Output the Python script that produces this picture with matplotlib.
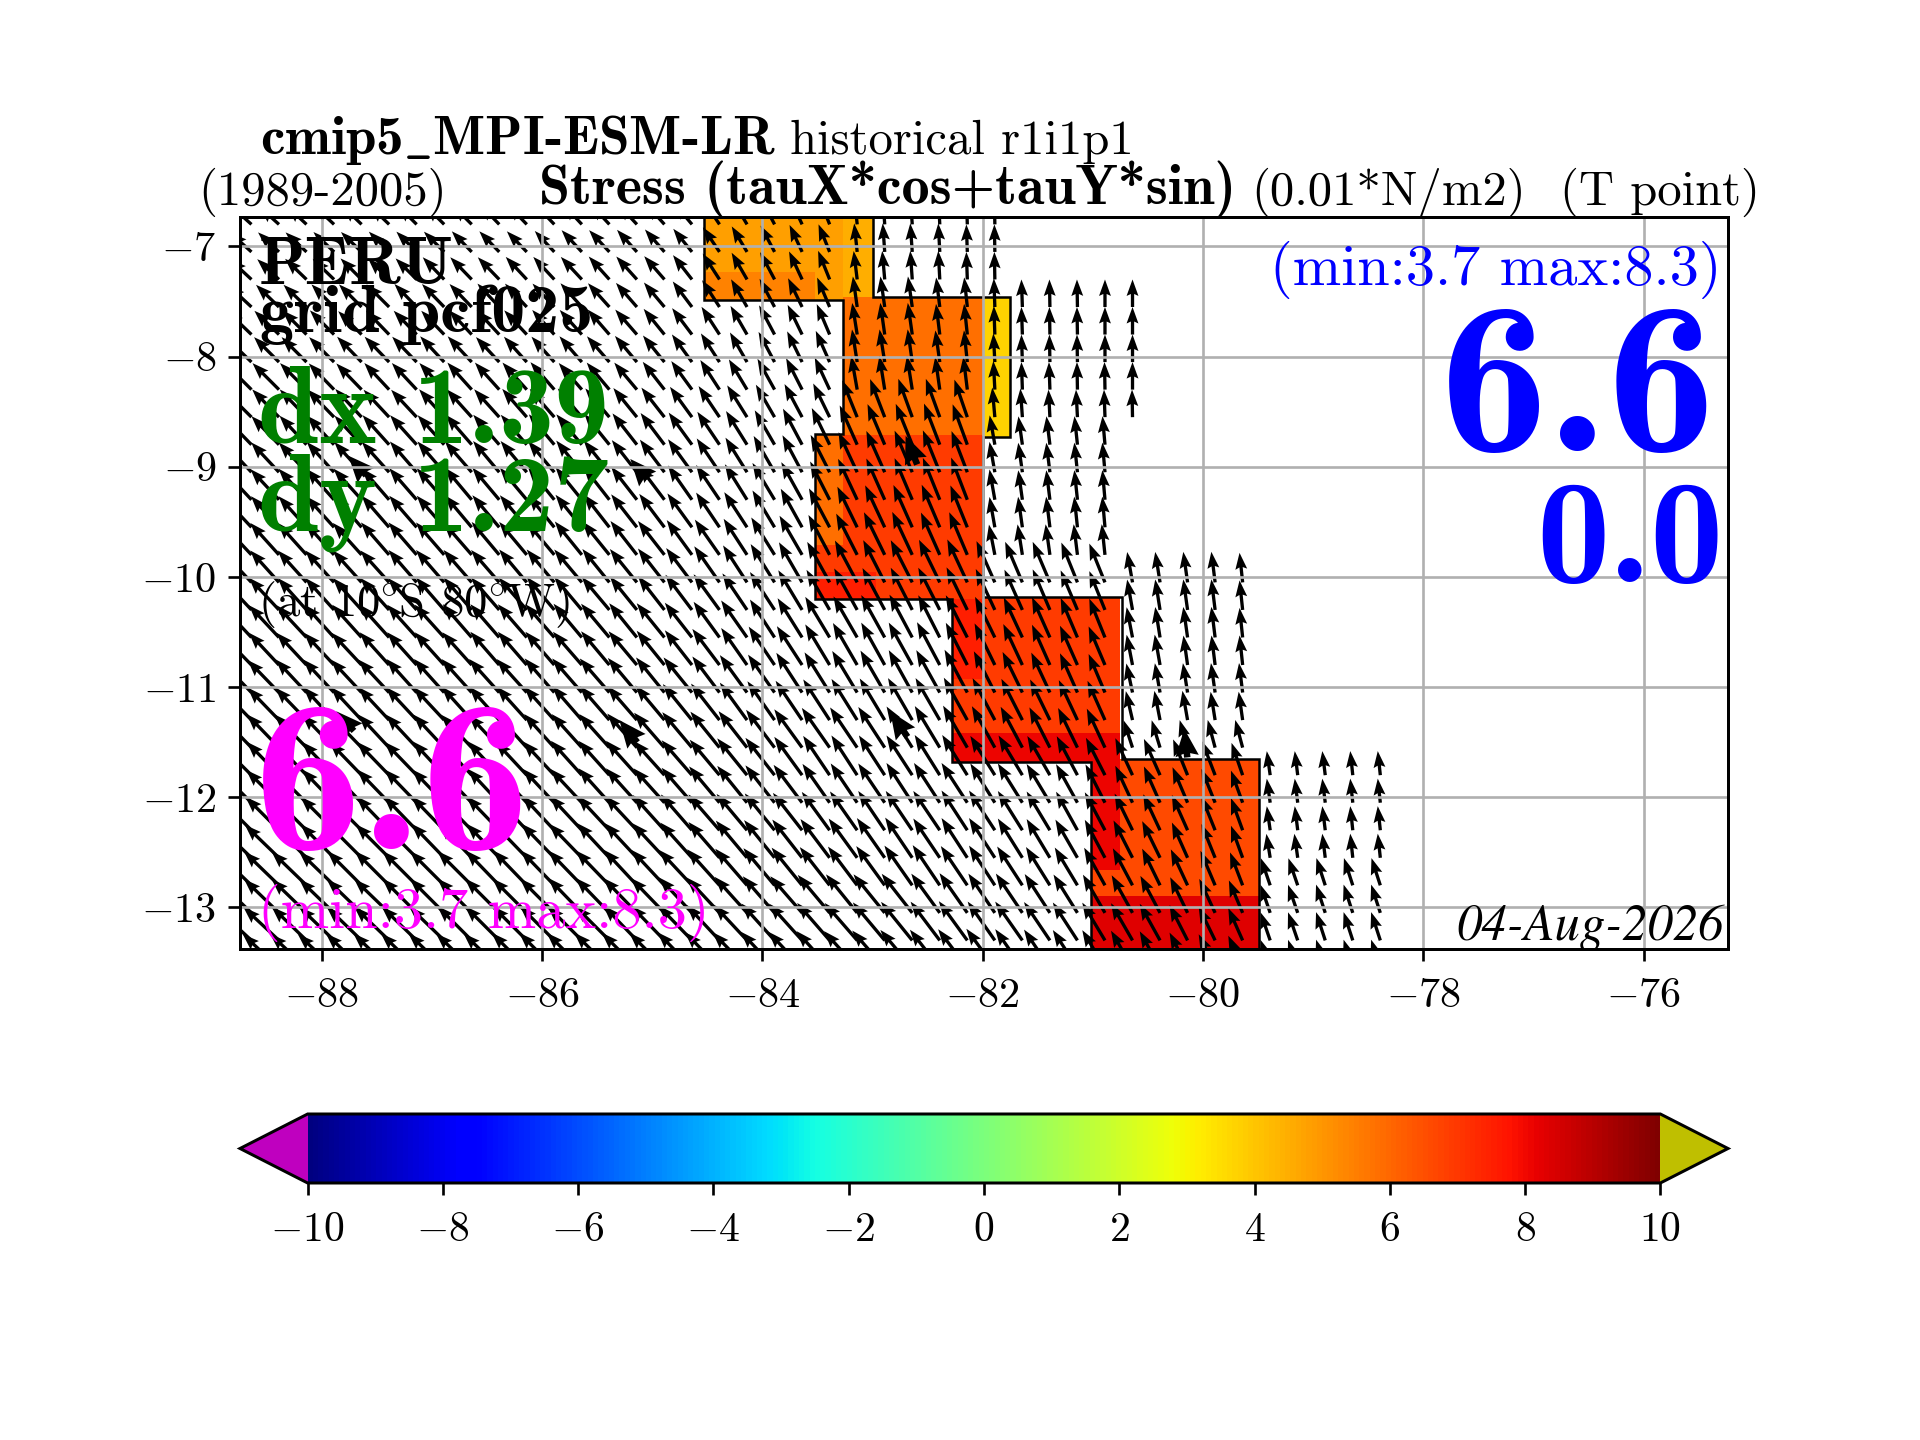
import numpy as np
import matplotlib
matplotlib.use("Agg")
import matplotlib.pyplot as plt
from matplotlib.cm import ScalarMappable
from matplotlib.colors import Normalize

plt.rcParams['mathtext.fontset'] = 'cm'
plt.rcParams['font.family'] = ['cmr10', 'DejaVu Sans']
plt.rcParams['axes.formatter.use_mathtext'] = True

# ---- values ----
x_ticks = [-88, -86, -84, -82, -80, -78, -76]
y_ticks = [-7, -8, -9, -10, -11, -12, -13]
cbar_ticks = [-10, -8, -6, -4, -2, 0, 2, 4, 6, 8, 10]
x_limits = (-88.744, -75.233)
y_limits = (-13.378, -6.733)

# colour blocks: west, east, south, north, value
block_w = [-84.53, -84.53, -83.52, -83.27, -83.27, -82.00, -83.52, -83.27, -83.52, -83.52, -82.97, -82.28, -82.00, -82.28, -82.28, -81.02, -81.02, -80.75, -81.02]
block_e = [-83.27, -83.52, -83.27, -83.00, -82.00, -81.75, -83.27, -82.00, -82.00, -82.97, -82.00, -82.00, -80.75, -82.00, -80.75, -80.75, -80.75, -79.49, -79.49]
block_s = [-7.23, -7.49, -7.49, -7.47, -8.71, -8.73, -9.71, -9.71, -9.96, -10.20, -10.20, -10.93, -11.42, -11.42, -11.68, -12.66, -12.90, -12.90, -13.60]
block_n = [-6.50, -7.23, -7.23, -6.50, -7.46, -7.46, -8.70, -8.71, -9.71, -9.96, -9.96, -10.20, -10.18, -10.93, -11.42, -11.68, -12.66, -11.65, -12.90]
block_v = [4.8, 5.4, 4.8, 4.5, 5.8, 3.7, 5.8, 6.9, 6.9, 7.5, 6.9, 7.5, 6.9, 6.9, 8.1, 8.1, 6.7, 6.6, 8.3]

coast_lon = [-84.53, -83.00, -83.00, -81.75, -81.75, -82.00, -82.00, -80.74, -80.74, -79.49, -79.49, -81.02, -81.02, -82.28, -82.28, -83.52, -83.52, -83.27, -83.27, -84.53, -84.53]
coast_lat = [-6.50, -6.50, -7.46, -7.46, -8.73, -8.73, -10.18, -10.18, -11.65, -11.65, -13.60, -13.60, -11.68, -11.68, -10.20, -10.20, -8.70, -8.70, -7.49, -7.49, -6.50]

# arrow table: first column and first row of tails, steps in degrees
first_lon = -88.89
first_lat = -6.80
step_deg = 0.25

# arrow direction in degrees west of north, one list per row
angle_rows = [
 [49,48,48,47,47,46,46,45,45,45,44,44,44,43,43,43,42,40,34,31,28,25,22,6,4,4,3,2,1],
 [48,48,47,47,46,46,45,45,45,44,44,44,43,43,43,42,41,39,34,31,28,25,22,6,4,4,3,2,1],
 [48,47,47,46,46,45,45,45,44,44,44,43,43,43,42,42,41,38,33,30,28,25,22,7,5,4,3,2,1],
 [47,47,46,46,45,45,45,44,44,44,43,43,43,42,42,41,40,37,33,30,28,26,23,8,8,8,7,6,2,2,1,1,0,0],
 [47,46,46,45,45,45,44,44,44,43,43,43,42,42,41,41,39,37,33,30,28,26,23,9,8,8,7,6,2,2,1,1,0,0],
 [46,46,45,45,45,44,44,44,43,43,43,42,42,41,41,40,39,36,33,30,28,26,24,9,9,8,8,6,3,2,1,1,0,0],
 [46,45,45,45,44,44,43,43,43,42,42,42,41,41,40,40,38,36,33,31,29,27,25,10,9,9,8,7,3,2,2,1,1,0],
 [45,45,44,44,44,43,43,43,42,42,42,41,41,40,40,39,38,36,34,32,30,28,26,22,21,20,20,19,5,4,3,3,2,1],
 [44,44,44,43,43,43,42,42,42,41,41,41,40,40,39,38,37,36,34,32,30,28,26,24,23,22,21,20,10,8,7,6,5],
 [44,43,43,43,42,42,42,41,41,41,40,40,40,39,39,38,37,36,34,32,30,28,27,25,24,23,22,21,10,8,7,6,5],
 [43,43,43,42,42,42,41,41,41,40,40,40,39,39,38,38,37,35,34,32,31,29,27,25,24,23,22,21,10,8,7,6,5],
 [43,43,42,42,42,41,41,41,41,40,40,40,39,39,38,38,37,36,34,33,31,29,28,26,25,24,23,22,10,8,7,6,5],
 [43,43,42,42,42,42,41,41,41,41,40,40,40,39,39,38,38,36,35,33,32,30,28,27,26,25,24,23,11,9,8,7,6],
 [43,43,42,42,42,42,42,41,41,41,41,40,40,40,39,39,38,37,35,33,32,30,29,28,27,27,26,25,24,23,23,22,22,10,9,8,7,6],
 [43,43,43,42,42,42,42,42,41,41,41,41,40,40,40,39,38,37,36,34,33,31,30,29,28,27,27,26,25,24,23,23,22,10,9,8,7,6],
 [44,43,43,43,42,42,42,42,42,41,41,41,41,40,40,39,39,38,36,35,33,32,31,30,29,28,27,27,26,25,24,23,22,11,9,8,7,6],
 [44,44,43,43,43,43,42,42,42,42,41,41,41,41,40,40,39,38,37,35,34,33,31,30,29,29,28,27,26,25,24,24,23,11,10,8,7,6],
 [44,44,44,43,43,43,43,42,42,42,42,42,41,41,41,40,39,39,37,36,35,33,32,31,30,29,29,28,27,26,25,24,23,12,10,9,8,7],
 [44,44,44,44,43,43,43,43,43,42,42,42,42,41,41,41,40,39,38,36,35,34,33,32,31,30,30,29,28,27,26,25,24,13,11,10,9,8],
 [45,44,44,44,44,44,43,43,43,43,43,42,42,42,42,41,41,40,39,38,37,36,35,34,33,32,31,30,29,28,27,26,25,18,17,16,15,15],
 [45,45,44,44,44,44,44,44,43,43,43,43,43,42,42,42,42,41,40,39,38,36,34,33,33,33,32,32,32,31,30,28,27,25,24,22,21,19,8,7,7,6,6],
 [45,45,45,45,44,44,44,44,44,44,43,43,43,43,42,42,42,41,40,39,38,37,35,34,34,33,33,33,32,32,31,29,27,25,24,23,22,20,8,7,7,6,6],
 [46,45,45,45,45,45,44,44,44,44,44,43,43,43,43,43,42,41,41,40,39,38,36,35,34,34,34,33,33,32,31,29,28,26,25,24,22,20,8,7,7,6,6],
 [46,46,46,45,45,45,45,45,44,44,44,44,44,44,43,43,43,42,41,40,39,38,37,36,35,34,34,33,33,32,31,30,28,27,26,24,22,20,9,8,7,6,6],
 [46,46,46,46,46,45,45,45,45,45,44,44,44,44,44,43,43,43,42,41,40,39,38,37,36,35,34,34,33,33,32,31,29,28,26,25,23,21,19,19,18,18,18],
 [47,46,46,46,46,46,46,45,45,45,45,45,45,44,44,44,44,43,43,42,41,41,40,39,39,38,36,35,34,34,33,32,30,29,28,26,25,23,19,19,18,18,18],
 [47,47,47,46,46,46,46,46,46,45,45,45,45,45,45,44,44,44,43,43,42,42,41,41,40,39,37,36,35,35,34,33,31,30,29,27,26,24,19,19,18,18,18],
 [47,47,47,47,47,46,46,46,46,46,46,45,45,45,45,45,45,44,44,44,43,43,42,42,41,40,38,37,36,35,34,33,31,30,29,27,26,24,19,19,18,18,18],
]

# arrow length in hundredths of a degree, one list per row
length_rows = [
 [24,24,24,24,24,24,24,24,24,24,25,25,25,25,25,25,25,25,25,25,25,25,25,25,25,25,25,24,24],
 [26,26,26,26,26,26,26,26,26,26,26,26,26,27,27,27,27,27,27,27,27,27,27,26,26,26,26,25,25],
 [27,27,27,27,27,27,27,27,28,28,28,28,28,28,28,28,28,28,28,28,28,28,28,26,26,26,26,25,25],
 [29,29,29,29,29,29,29,29,29,29,29,29,29,29,29,29,29,29,29,29,29,29,29,28,28,28,27,27,26,25,25,25,25,25],
 [31,31,31,31,31,30,30,30,30,30,30,30,30,30,30,30,30,30,30,30,30,30,30,29,29,29,28,28,26,25,25,25,25,25],
 [32,32,32,32,32,32,32,32,32,32,31,31,31,31,31,31,31,31,31,31,31,31,31,30,30,30,29,29,26,25,25,25,25,25],
 [34,34,34,34,33,33,33,33,33,33,33,33,33,32,32,32,32,32,32,32,32,32,32,31,31,31,30,30,26,25,25,25,25,25],
 [35,35,35,35,35,35,34,34,34,34,34,34,34,34,34,34,34,34,34,34,34,34,34,36,37,37,37,36,27,26,25,25,25,25],
 [36,36,36,36,36,36,36,36,36,36,36,36,36,36,36,36,36,36,36,36,36,37,37,39,40,40,40,39,27,26,26,26,26],
 [37,37,37,37,37,37,37,37,37,37,37,37,37,37,37,37,37,37,37,37,38,38,38,40,41,41,41,40,28,27,27,27,27],
 [38,38,38,38,38,38,38,38,38,38,38,38,38,38,38,38,38,38,38,38,39,39,39,41,41,41,41,41,28,27,27,27,27],
 [38,38,38,38,38,38,38,38,38,38,38,38,38,38,38,38,38,38,38,38,39,40,40,41,42,42,42,41,28,28,28,28,28],
 [39,39,39,39,39,39,39,39,39,39,39,39,39,39,39,39,39,39,39,39,40,41,41,42,43,43,42,42,28,28,28,28,28],
 [39,39,39,39,39,39,39,39,39,39,39,39,39,39,39,39,39,39,40,40,41,42,42,43,43,43,43,43,41,40,40,39,38,28,28,28,28,27],
 [40,40,40,39,39,39,39,39,39,39,39,39,39,39,39,39,39,40,40,40,41,42,42,43,43,43,43,43,41,40,40,39,38,28,28,28,28,27],
 [40,40,40,40,40,40,40,40,40,40,40,40,40,40,40,40,40,40,40,41,41,42,43,43,44,44,43,43,41,40,40,39,38,28,28,28,28,27],
 [40,40,40,40,40,40,40,40,40,40,40,40,40,40,40,40,40,40,41,41,42,42,43,44,44,44,44,43,42,41,40,39,38,28,28,27,27,27],
 [41,41,41,41,41,41,41,41,41,41,41,41,41,41,41,41,41,41,41,42,42,43,43,44,44,44,44,44,42,41,40,39,38,27,27,27,27,27],
 [41,41,41,41,41,41,41,41,41,41,41,41,41,41,41,41,41,42,42,42,43,43,44,44,44,44,44,44,43,42,41,40,39,27,27,27,26,26],
 [42,42,42,42,42,42,41,41,41,41,41,41,41,41,41,41,42,42,42,42,43,43,44,44,44,44,44,44,43,42,41,40,39,26,26,26,26,26],
 [42,42,42,42,42,42,42,42,42,42,42,42,42,42,42,42,42,42,42,43,43,43,43,43,43,43,43,43,42,42,41,40,38,37,36,35,33,31,22,22,22,22,22],
 [42,42,42,42,42,42,42,42,42,42,42,42,42,42,42,42,42,42,43,43,43,43,43,43,43,43,43,43,42,42,41,40,39,37,36,35,33,31,22,22,22,22,22],
 [43,43,43,43,43,43,43,43,43,43,43,43,43,43,43,43,43,43,43,43,43,43,43,43,43,43,43,43,43,42,41,40,39,37,36,35,33,31,22,22,22,22,22],
 [43,43,43,43,43,43,43,43,43,43,43,43,43,43,43,43,43,43,43,44,44,44,44,44,44,44,43,43,43,42,41,40,39,38,37,35,33,31,22,22,22,22,22],
 [44,44,44,44,44,44,44,44,44,44,44,44,44,44,44,44,44,44,44,44,44,44,44,44,44,44,44,43,43,42,41,40,39,38,37,36,34,32,26,26,26,26,26],
 [44,44,44,44,44,44,44,44,44,44,44,44,44,44,44,44,44,44,44,44,44,44,45,45,45,45,44,44,43,43,42,41,40,39,38,36,34,32,27,27,27,27,27],
 [44,44,44,44,44,44,44,44,44,44,44,44,44,44,44,44,44,44,44,44,45,45,45,45,45,45,44,44,43,43,42,41,40,39,38,36,34,32,27,27,27,27,27],
 [45,45,45,45,45,45,45,45,45,45,45,45,45,45,45,45,45,45,45,45,45,45,45,45,45,45,44,44,44,43,42,41,40,39,38,36,34,32,27,27,27,27,27],
]

# the few arrows with doubled, heavier heads: tip position, angle, length
heavy_lon = [-87.76, -85.20, -82.70, -87.87, -85.30, -82.84, -80.17]
heavy_lat = [-8.90, -8.93, -8.72, -11.22, -11.30, -11.22, -11.38]
heavy_ang = [42, 41, 22, 42, 39, 34, 6]
heavy_len = [24, 24, 28, 24, 26, 28, 26]

# ---- drawing ----
fig = plt.figure(figsize=(8, 6), dpi=240)
ax = fig.add_axes([240/1920, 1-949/1440, 1488/1920, 732/1440])

cmap = plt.get_cmap('jet').copy()
cmap.set_under((0.75, 0, 0.75))
cmap.set_over((0.75, 0.75, 0))
norm = Normalize(-10, 10)

for w, e, s, n, v in zip(block_w, block_e, block_s, block_n, block_v):
    ax.pcolormesh([w, e], [s, n], [[v]], cmap=cmap, norm=norm, zorder=0.5, linewidth=0)
ax.plot(coast_lon, coast_lat, color='k', lw=0.75, zorder=0.8, solid_joinstyle='miter')

xs, ys, us, vs = [], [], [], []
for i, (ar, lr) in enumerate(zip(angle_rows, length_rows)):
    for j, (a, l) in enumerate(zip(ar, lr)):
        xs.append(first_lon + step_deg*j)
        ys.append(first_lat - step_deg*i)
        us.append(-l/100*np.sin(np.radians(a)))
        vs.append(l/100*np.cos(np.radians(a)))
ax.quiver(xs, ys, us, vs, angles='xy', scale_units='xy', scale=1, pivot='tail',
          units='inches', width=3.3/240, headwidth=3.6, headlength=5.0, headaxislength=4.4,
          color='k', zorder=1)
hu = [-l/100*np.sin(np.radians(a)) for a, l in zip(heavy_ang, heavy_len)]
hv = [l/100*np.cos(np.radians(a)) for a, l in zip(heavy_ang, heavy_len)]
ax.quiver(heavy_lon, heavy_lat, hu, hv, angles='xy', scale_units='xy', scale=1, pivot='tip',
          units='inches', width=6.5/240, headwidth=3.6, headlength=4.2, headaxislength=3.8,
          color='k', zorder=1)

ax.set_xlim(*x_limits)
ax.set_ylim(*y_limits)
ax.set_xticks(x_ticks)
ax.set_yticks(y_ticks)
ax.set_xticklabels(['$%d$' % t for t in x_ticks], fontsize=12.7)
ax.set_yticklabels(['$%d$' % t for t in y_ticks], fontsize=12.7)
ax.tick_params(axis='x', pad=5)
ax.grid(True, color='#b0b0b0', lw=0.8)
ax.set_axisbelow(False)
for s in ax.spines.values():
    s.set_linewidth(0.9)
    s.set_zorder(3)

def put(x, y, txt, **kw):
    kw.setdefault('va', 'baseline')
    kw.setdefault('ha', 'left')
    fig.text(x/1568, 1-y/1176, txt, zorder=5, **kw)

B = 'cmb10'
put(212, 126, r'cmip5$\_$MPI-ESM-LR', family=B, fontsize=16.5)
put(645, 126, 'historical r1i1p1', fontsize=14.6)
put(162, 167, '(1989-2005)', fontsize=14.6)
put(440, 167, 'Stress (tauX*cos+tauY*sin)', family=B, fontsize=16.8)
put(1022, 167, '(0.01*N/m2)', fontsize=14.6)
put(1274, 167, '(T point)', fontsize=14.6)

put(211, 232, 'PERU', family=B, fontsize=20.4)
put(212, 271, 'grid pcf025', family=B, fontsize=20.4)
put(211, 362, 'dx 1.39', family=B, fontsize=33, color='green')
put(211, 433, 'dy 1.27', family=B, fontsize=33, color='green')
put(211, 503, r'(at 10$\!^\circ\!$S 80$\!^\circ\!$W)', fontsize=14)
put(207, 693, '6.6', family=B, fontsize=65, color='magenta')
put(211, 758, '(min:3.7 max:8.3)', fontsize=17.5, color='magenta')

put(1406, 233, '(min:3.7 max:8.3)', fontsize=17.5, color='blue', ha='right')
put(1402, 368, '6.6', family=B, fontsize=65, color='blue', ha='right')
put(1408, 475, '0.0', family=B, fontsize=44, color='blue', ha='right')
put(1408, 768, '04-Aug-2026', family='STIXGeneral', style='italic', fontsize=15.2, ha='right')

cax = fig.add_axes([240/1920, 1-1183/1440, 1488/1920, 69/1440])
cb = fig.colorbar(ScalarMappable(norm=norm, cmap=cmap), cax=cax, orientation='horizontal',
                  extend='both', ticks=cbar_ticks)
cb.ax.set_xticklabels(['$%d$' % t for t in cbar_ticks], fontsize=12.5)
cb.ax.tick_params(axis='x', pad=5)
cb.outline.set_linewidth(0.9)

fig.savefig('out.png', dpi=240)
